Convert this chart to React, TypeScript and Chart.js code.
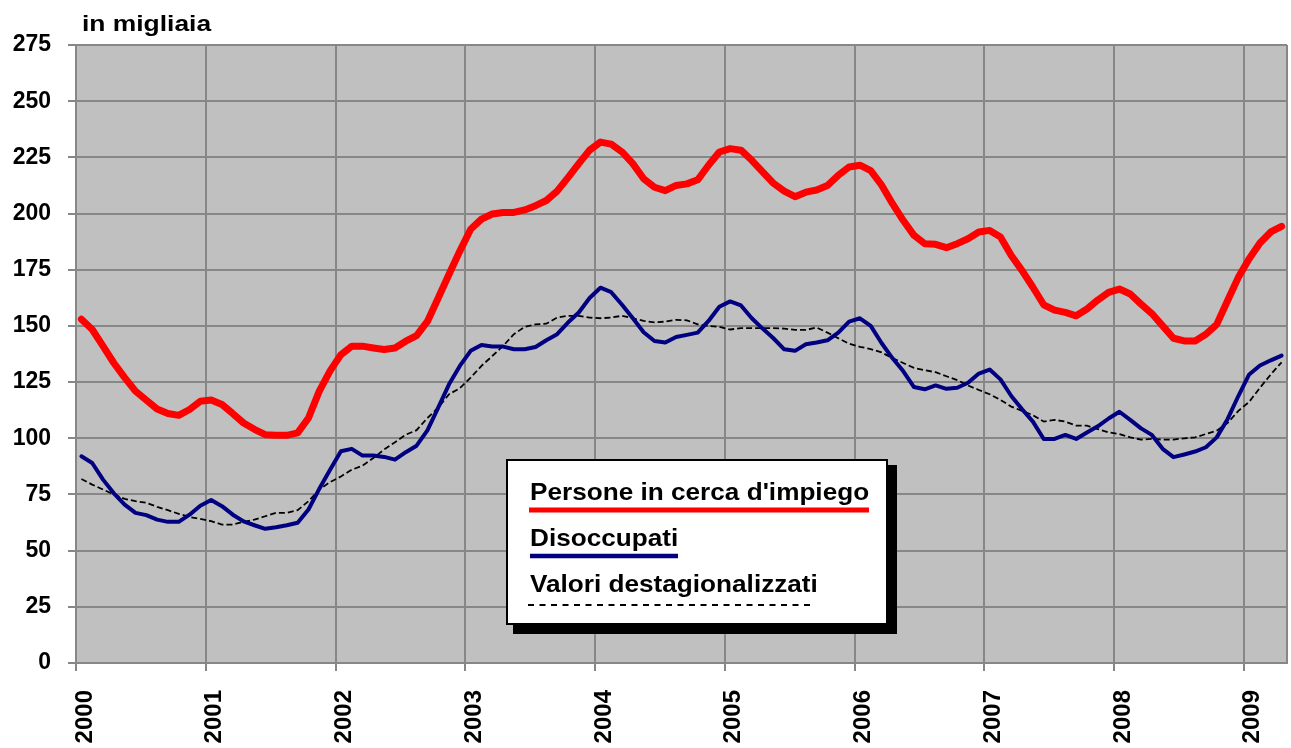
import React, { useEffect, useRef } from 'react';
import { Chart, registerables } from 'chart.js';

Chart.register(...registerables);

// Year labels (one tick every 12 months, data is monthly from Jan 2000 to Apr 2009)
const YEARS = ['2000', '2001', '2002', '2003', '2004', '2005', '2006', '2007', '2008', '2009'];
const MONTHS_PER_YEAR = 12;
const N_MONTHS = 112;
const Y_TICKS = [0, 25, 50, 75, 100, 125, 150, 175, 200, 225, 250, 275];

const TITLE = 'in migliaia';
const LABEL_PERSONE = "Persone in cerca d'impiego";
const LABEL_DISOCCUPATI = 'Disoccupati';
const LABEL_DESTAG = 'Valori destagionalizzati';

// Persone in cerca d'impiego (thousands)
const PERSONE = [
  153, 148.4, 141, 133.5, 127, 121, 117, 113, 111, 110.2, 112.8, 116.5,
  117, 115, 111, 106.8, 104, 101.6, 101.3, 101.3, 102.4, 109, 121, 130,
  137.2, 141, 141, 140.2, 139.5, 140.2, 143.2, 145.7, 152, 162.4, 173, 183.3,
  193, 197.5, 199.8, 200.5, 200.5, 201.6, 203.5, 205.8, 210, 216, 222.2, 228.2,
  231.8, 230.9, 227.4, 222.2, 215.5, 211.7, 210.2, 212.5, 213.2, 215, 221.5, 227.4,
  228.9, 228.2, 223.7, 218.5, 213.5, 210, 207.5, 209.5, 210.5, 212.5, 217, 220.7,
  221.5, 219.1, 212.7, 204.5, 197, 190.3, 186.6, 186.3, 184.8, 186.6, 188.8, 191.8,
  192.5, 189.6, 181.3, 174.6, 167.2, 159.4, 157, 156, 154.5, 157.5, 161.5, 164.9,
  166.4, 164.2, 159.7, 155.5, 150, 144.5, 143.3, 143.3, 146.3, 150.7, 161.2, 171.6,
  179.9, 186.9, 191.8, 194.3,
];

// Disoccupati (thousands)
const DISOCCUPATI = [
  92, 89, 81.6, 75.5, 70.5, 66.8, 65.8, 63.8, 62.8, 62.8, 66, 70,
  72.5, 69.8, 66, 63, 61.3, 59.7, 60.4, 61.3, 62.4, 68.3, 77.5, 86,
  94.2, 95.3, 92.3, 92.3, 91.7, 90.5, 93.8, 96.7, 103.5, 113.6, 124, 132.2,
  138.9, 141.5, 140.8, 140.8, 139.6, 139.6, 140.6, 143.6, 146.3, 151.5, 156, 162.4,
  167, 165, 159.4, 153.4, 147.2, 143.3, 142.6, 145.1, 146, 147, 152.2, 158.5,
  160.9, 159.1, 153.4, 148.8, 144.5, 139.6, 138.9, 141.8, 142.6, 143.6, 147, 151.9,
  153.4, 150, 142.4, 135.7, 129.9, 122.8, 121.8, 123.5, 122, 122.5, 124.7, 128.8,
  130.6, 126.2, 118.8, 112.9, 107.4, 99.7, 99.7, 101.5, 99.7, 102.6, 105.3, 108.8,
  111.8, 108.2, 104.4, 101.5, 95.3, 91.6, 92.8, 94.1, 96, 100.4, 108.5, 118.8,
  128.4, 132.4, 134.7, 136.8,
];

// Valori destagionalizzati (thousands)
const DESTAG = [
  81.9, 79.4, 77.2, 75, 73, 72, 71.3, 69.5, 68, 66.4, 65, 64.1,
  63.1, 61.6, 61.6, 62.8, 63.8, 65.3, 66.8, 66.8, 68, 72, 77.2, 80.5,
  83, 86, 87.8, 91.2, 95, 98.2, 101.6, 103.6, 109, 113.6, 119.6, 122.3,
  127, 132.2, 136.6, 141.1, 146.3, 149.6, 150.7, 151, 153.7, 154.5, 154.5, 153.7,
  153.4, 153.7, 154.5, 153.4, 152.2, 151.6, 151.9, 152.7, 152.5, 150.7, 150, 149.6,
  148.4, 149, 149, 149, 149, 148.8, 148.2, 148.2, 149.3, 147, 144.5, 142.1,
  140.7, 139.7, 138.2, 135.7, 133.5, 131.3, 130.3, 129.4, 127.6, 125.9, 123.5, 121.5,
  119.6, 117.1, 114.1, 112.2, 110.3, 107.4, 108.2, 107.4, 105.6, 105.6, 104.1, 102.6,
  101.9, 100.4, 99.4, 99.7, 99.4, 99.4, 100, 100.4, 101.9, 103.4, 106.8, 112.2,
  116.2, 122.5, 128.4, 133.8,
];

const FONT = '"Liberation Sans", Arial, Helvetica, sans-serif';
const GRID = '#878787';

function toPoints(values: number[]) {
  return values.map((v, i) => ({ x: i + 0.5, y: v }));
}

function stretchedText(ctx: CanvasRenderingContext2D, text: string, x: number, y: number, sx: number) {
  ctx.save();
  ctx.translate(x, y);
  ctx.scale(sx, 1);
  ctx.fillText(text, 0, 0);
  ctx.restore();
}

export default function App() {
  const ref = useRef<HTMLCanvasElement | null>(null);

  useEffect(() => {
    document.body.style.margin = '0';
    const canvas = ref.current;
    if (!canvas) return;

    const bgPlugin = {
      id: 'plotBg',
      beforeDraw(chart: any) {
        const { ctx, chartArea: a } = chart;
        ctx.save();
        ctx.fillStyle = '#C0C0C0';
        ctx.fillRect(a.left, a.top, a.right - a.left, a.bottom - a.top);
        ctx.restore();
      },
    };

    const overlayPlugin = {
      id: 'overlay',
      afterDraw(chart: any) {
        const ctx: CanvasRenderingContext2D = chart.ctx;
        const ds = chart.data.datasets;
        ctx.save();
        // axis title
        ctx.fillStyle = '#000';
        ctx.textBaseline = 'alphabetic';
        ctx.textAlign = 'left';
        ctx.font = `bold 22px ${FONT}`;
        stretchedText(ctx, TITLE, 82, 31, 1.2);

        // legend box with shadow
        ctx.fillStyle = '#000';
        ctx.fillRect(513, 465, 384, 169);
        ctx.fillStyle = '#fff';
        ctx.fillRect(506, 459, 382, 166);
        ctx.strokeStyle = '#000';
        ctx.lineWidth = 2;
        ctx.strokeRect(507, 460, 380, 164);

        ctx.fillStyle = '#000';
        ctx.font = `bold 24px ${FONT}`;
        stretchedText(ctx, ds[0].label, 530, 500, 1.09);
        stretchedText(ctx, ds[1].label, 530, 546, 1.09);
        stretchedText(ctx, ds[2].label, 530, 592, 1.09);

        ctx.lineCap = 'butt';
        ctx.strokeStyle = ds[0].borderColor;
        ctx.lineWidth = 5;
        ctx.beginPath();
        ctx.moveTo(529, 510);
        ctx.lineTo(869, 510);
        ctx.stroke();

        ctx.strokeStyle = ds[1].borderColor;
        ctx.lineWidth = 4.5;
        ctx.beginPath();
        ctx.moveTo(530, 556);
        ctx.lineTo(678, 556);
        ctx.stroke();

        ctx.strokeStyle = ds[2].borderColor;
        ctx.lineWidth = 2;
        ctx.setLineDash([6, 5.5]);
        ctx.beginPath();
        ctx.moveTo(528, 605);
        ctx.lineTo(815, 605);
        ctx.stroke();
        ctx.restore();
      },
    };

    const chart = new Chart(canvas, {
      type: 'line',
      data: {
        datasets: [
          {
            label: LABEL_PERSONE,
            data: toPoints(PERSONE),
            borderColor: '#FF0000',
            borderWidth: 7,
            pointRadius: 0,
            tension: 0,
            borderJoinStyle: 'round',
            borderCapStyle: 'round',
            fill: false,
          },
          {
            label: LABEL_DISOCCUPATI,
            data: toPoints(DISOCCUPATI),
            borderColor: '#000080',
            borderWidth: 4,
            pointRadius: 0,
            tension: 0,
            borderJoinStyle: 'round',
            borderCapStyle: 'round',
            fill: false,
          },
          {
            label: LABEL_DESTAG,
            data: toPoints(DESTAG),
            borderColor: '#000000',
            borderWidth: 1.8,
            borderDash: [6, 3],
            pointRadius: 0,
            tension: 0,
            fill: false,
          },
        ],
      },
      options: {
        animation: false,
        responsive: false,
        events: [],
        layout: { padding: { top: 45, right: 4, left: 0, bottom: 0 } },
        plugins: { legend: { display: false }, tooltip: { enabled: false }, title: { display: false } },
        scales: {
          x: {
            type: 'linear',
            min: 0,
            max: N_MONTHS,
            afterBuildTicks: (s: any) => {
              s.ticks = [...YEARS.map((_, k) => ({ value: k * MONTHS_PER_YEAR })), { value: N_MONTHS }];
            },
            afterFit: (s: any) => {
              s.height = 85;
              s.paddingLeft = 0;
              s.paddingRight = 0;
            },
            ticks: {
              autoSkip: false,
              minRotation: 90,
              maxRotation: 90,
              padding: 19,
              labelOffset: 9,
              color: '#000',
              font: { family: FONT, size: 24, weight: 'bold' },
              callback: (v: any) => (v % MONTHS_PER_YEAR === 0 ? YEARS[v / MONTHS_PER_YEAR] : ''),
            },
            grid: {
              color: GRID,
              lineWidth: 2,
              tickLength: 8,
              tickWidth: 2,
              tickColor: (c: any) => (c.tick && c.tick.value === N_MONTHS ? 'rgba(0,0,0,0)' : GRID),
            },
            border: { display: true, color: GRID, width: 2 },
          },
          y: {
            type: 'linear',
            min: 0,
            max: 275,
            afterBuildTicks: (s: any) => {
              s.ticks = Y_TICKS.map((v) => ({ value: v }));
            },
            afterFit: (s: any) => {
              s.width = 76;
              s.paddingTop = 0;
              s.paddingBottom = 0;
            },
            ticks: {
              padding: 17,
              color: '#000',
              font: { family: FONT, size: 23, weight: 'bold' },
            },
            grid: { color: GRID, lineWidth: 2, tickLength: 8, tickWidth: 2, tickColor: GRID },
            border: { display: true, color: GRID, width: 2 },
          },
        },
      },
      plugins: [bgPlugin, overlayPlugin],
    } as any);

    return () => chart.destroy();
  }, []);

  return (
    <div style={{ width: 1291, height: 748, position: 'relative' }}>
      <canvas ref={ref} width={1291} height={748} style={{ display: 'block' }} />
    </div>
  );
}
